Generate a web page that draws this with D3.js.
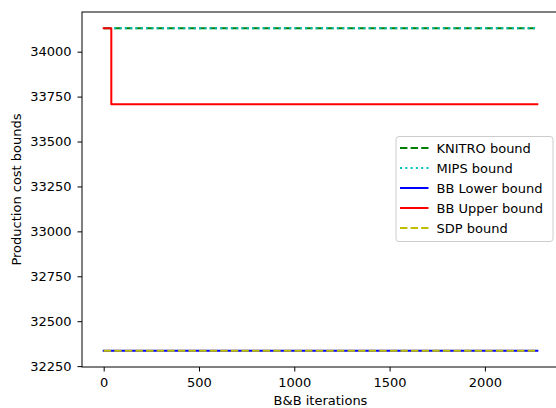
<!DOCTYPE html>
<html>
<head>
<meta charset="utf-8">
<script src="https://cdn.jsdelivr.net/npm/d3@7"></script>
<style>
    body { margin: 0; background: #fff; }
    text { font-family: "DejaVu Sans", sans-serif; fill: #000; }
</style>
</head>
<body>
<svg width="556" height="408"></svg>
<script>
    // data
    const iterStart = 0;
    const iterEnd = 2275;
    const knitroBound = 34131;
    const mipsBound = 34131;
    const bbLowerBound = 32335;
    const sdpBound = 32335;
    // BB upper bound: [iteration, value] break points (step after)
    const bbUpperSteps = [[0, 34131], [40, 33708], [2275, 33708]];

    const xTicks = [0, 500, 1000, 1500, 2000];
    const yTicks = [32250, 32500, 32750, 33000, 33250, 33500, 33750, 34000];

    const series = [
        {name: "KNITRO bound", color: "#008000", dash: "7.4,3.2", pts: [[iterStart, knitroBound], [iterEnd, knitroBound]]},
        {name: "MIPS bound", color: "#00bfbf", dash: "2,3.3", pts: [[iterStart, mipsBound], [iterEnd, mipsBound]]},
        {name: "BB Lower bound", color: "#0000ff", dash: null, pts: [[iterStart, bbLowerBound], [iterEnd, bbLowerBound]]},
        {name: "BB Upper bound", color: "#ff0000", dash: null, pts: bbUpperSteps},
        {name: "SDP bound", color: "#bfbf00", dash: "7.4,3.2", pts: [[iterStart, sdpBound], [iterEnd, sdpBound]]}
    ];

    // global layout
    const plotLeft = 82, plotRight = 559, plotTop = 12, plotBottom = 367;

    // matplotlib style 5% margins
    const xPad = 0.05 * (iterEnd - iterStart);
    const xScale = d3.scaleLinear()
        .domain([iterStart - xPad, iterEnd + xPad])
        .range([plotLeft, plotRight]);

    const yMin = d3.min(series, s => d3.min(s.pts, p => p[1]));
    const yMax = d3.max(series, s => d3.max(s.pts, p => p[1]));
    const yPad = 0.05 * (yMax - yMin);
    const yScale = d3.scaleLinear()
        .domain([yMin - yPad, yMax + yPad])
        .range([plotBottom, plotTop]);

    const svg = d3.select("svg");

    const line = d3.line()
        .x(d => xScale(d[0]))
        .y(d => yScale(d[1]))
        .curve(d3.curveStepAfter);

    const plot = svg.append("g");
    series.forEach(s => {
        plot.append("path")
            .attr("d", line(s.pts))
            .attr("fill", "none")
            .attr("stroke", s.color)
            .attr("stroke-width", 2)
            .attr("stroke-linejoin", "round")
            .attr("stroke-linecap", s.dash ? "butt" : "square")
            .attr("stroke-dasharray", s.dash);
    });

    // frame
    svg.append("rect")
        .attr("x", plotLeft)
        .attr("y", plotTop)
        .attr("width", plotRight - plotLeft)
        .attr("height", plotBottom - plotTop)
        .attr("fill", "none")
        .attr("stroke", "#000")
        .attr("stroke-width", 1);

    const botAxis = d3.axisBottom(xScale)
        .tickValues(xTicks)
        .tickSizeInner(4.5)
        .tickSizeOuter(0)
        .tickPadding(6.5)
        .tickFormat(d3.format("d"));

    const leftAxis = d3.axisLeft(yScale)
        .tickValues(yTicks)
        .tickSizeInner(4.5)
        .tickSizeOuter(0)
        .tickPadding(6)
        .tickFormat(d3.format("d"));

    const gx = svg.append("g")
        .attr("transform", "translate(0," + plotBottom + ")")
        .call(botAxis);
    const gy = svg.append("g")
        .attr("transform", "translate(" + plotLeft + ",0)")
        .call(leftAxis);

    [gx, gy].forEach(g => {
        g.select(".domain").remove();
        g.selectAll("line").attr("stroke", "#000").attr("stroke-width", 1);
        g.selectAll("text")
            .style("font-family", "DejaVu Sans")
            .style("font-size", "13px")
            .attr("fill", "#000");
    });

    svg.append("text")
        .attr("x", (plotLeft + plotRight) / 2)
        .attr("y", 405)
        .attr("text-anchor", "middle")
        .style("font-size", "13px")
        .text("B&B iterations");

    svg.append("text")
        .attr("transform", "translate(20.5," + (plotTop + plotBottom) / 2 + ") rotate(-90)")
        .attr("text-anchor", "middle")
        .style("font-size", "13px")
        .text("Production cost bounds");

    // legend
    const legend = svg.append("g");
    legend.append("rect")
        .attr("x", 396)
        .attr("y", 136.5)
        .attr("width", 157)
        .attr("height", 105)
        .attr("rx", 3)
        .attr("fill", "#fff")
        .attr("fill-opacity", 0.8)
        .attr("stroke", "#cccccc")
        .attr("stroke-width", 1);

    const rows = legend.selectAll("g.row")
        .data(series)
        .join("g")
        .attr("class", "row")
        .attr("transform", (d, i) => "translate(0," + (148 + i * 20) + ")");

    rows.append("line")
        .attr("x1", 400)
        .attr("x2", 428.5)
        .attr("stroke", d => d.color)
        .attr("stroke-width", 2)
        .attr("stroke-dasharray", d => d.dash);

    rows.append("text")
        .attr("x", 436.5)
        .attr("dy", "0.36em")
        .style("font-size", "13px")
        .text(d => d.name);
</script>
</body>
</html>
